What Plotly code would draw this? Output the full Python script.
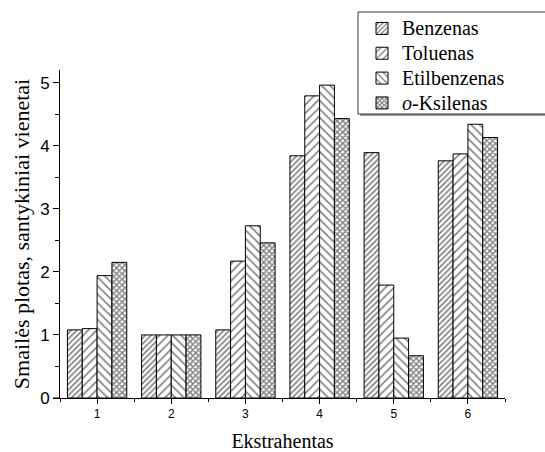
import plotly.graph_objects as go

# Extractant number (x categories)
ekstrahentas = [1, 2, 3, 4, 5, 6]

# Relative peak areas for each compound
benzenas = [1.08, 1.00, 1.08, 3.84, 3.89, 3.76]
toluenas = [1.10, 1.00, 2.17, 4.79, 1.79, 3.87]
etilbenzenas = [1.94, 1.00, 2.73, 4.96, 0.95, 4.34]
o_ksilenas = [2.15, 1.00, 2.46, 4.43, 0.67, 4.13]

series_names = ["Benzenas", "Toluenas", "Etilbenzenas", "<i>o</i>-Ksilenas"]
series_values = [benzenas, toluenas, etilbenzenas, o_ksilenas]
patterns = [
    dict(shape="/", size=4, solidity=0.4),
    dict(shape="/", size=6, solidity=0.26),
    dict(shape="\\", size=6, solidity=0.26),
    dict(shape="x", size=4, solidity=0.6),
]

fig = go.Figure()
for name, vals, pat in zip(series_names, series_values, patterns):
    fig.add_trace(go.Bar(
        x=ekstrahentas, y=vals,
        # legend text is set larger than the legend font so rows stay compact
        name='<span style="font-size:20px">' + name + "</span>",
        marker=dict(
            color="white",
            line=dict(color="black", width=1),
            pattern=dict(fgcolor="black", bgcolor="white", fillmode="overlay", **pat),
        ),
    ))

sans = "Liberation Sans"
serif = "Liberation Serif"

# legend frame with a soft grey drop shadow, running off the right edge
fig.add_shape(type="rect", xref="paper", yref="paper",
              x0=(360 - 60) / 445, x1=1.2, y0=(398 - 116) / 328, y1=(398 - 14) / 328,
              fillcolor="#9a9a9a", line=dict(width=0), layer="above")
fig.add_shape(type="rect", xref="paper", yref="paper",
              x0=(358 - 60) / 445, x1=1.2, y0=(398 - 114) / 328, y1=(398 - 12) / 328,
              fillcolor="white", line=dict(color="#333333", width=1), layer="above")
# x axis line extends a little past the y axis
fig.add_shape(type="line", xref="paper", yref="paper",
              x0=-7 / 445, x1=0, y0=0, y1=0, line=dict(color="black", width=1))

fig.update_layout(
    width=545, height=452,
    margin=dict(l=60, r=40, t=70, b=54, autoexpand=False),
    plot_bgcolor="white", paper_bgcolor="white",
    barmode="group", bargap=0.2, bargroupgap=0,
    showlegend=True,
    legend=dict(
        x=(362 - 60) / 445, y=(398 - 11) / 328, xanchor="left", yanchor="top",
        bgcolor="rgba(0,0,0,0)", borderwidth=0,
        font=dict(family=serif, size=16.8, color="black"),
        tracegroupgap=0, itemwidth=30,
    ),
    xaxis=dict(
        range=[0.5, 6.5], tickmode="linear", tick0=1, dtick=1,
        showline=True, linecolor="black", linewidth=1, automargin=False,
        ticks="outside", ticklen=5, tickcolor="black", tickwidth=1,
        minor=dict(tickmode="linear", tick0=0.5, dtick=1, ticks="outside",
                   ticklen=3, tickcolor="black", tickwidth=1),
        showgrid=False, zeroline=False,
        tickfont=dict(family=sans, size=12, color="black"),
        title=dict(text="Ekstrahentas", font=dict(family=serif, size=20, color="black"),
                   standoff=16),
    ),
    yaxis=dict(
        range=[0, 5.2], tickmode="linear", tick0=0, dtick=1,
        showline=True, linecolor="black", linewidth=1, automargin=False,
        ticks="outside", ticklen=6, tickcolor="black", tickwidth=1,
        minor=dict(dtick=0.5, ticks="outside", ticklen=4, tickcolor="black", tickwidth=1),
        showgrid=False, zeroline=False,
        tickfont=dict(family=sans, size=17, color="black"),
        title=dict(text="Smailės plotas, santykiniai vienetai",
                   font=dict(family=serif, size=22, color="black"), standoff=4),
    ),
)

fig.write_html("out.html")
